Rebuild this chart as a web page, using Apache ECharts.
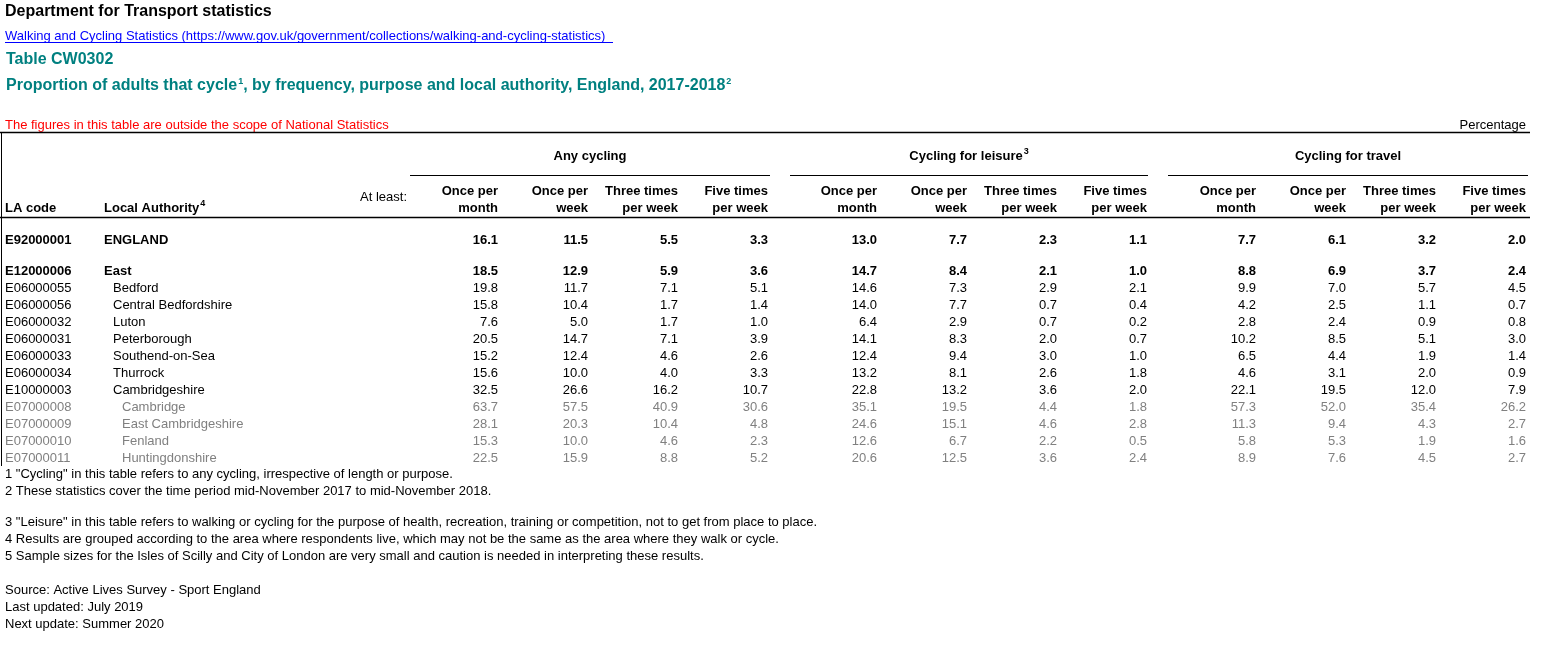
<!DOCTYPE html>
<html lang="en">
<head>
<meta charset="UTF-8">
<title>CW0302</title>
<style>
  html,body{margin:0;padding:0;background:#fff;}
  #main{width:1557px;height:649px;}
</style>
<script src="https://cdn.jsdelivr.net/npm/echarts@6/dist/echarts.min.js"></script>
</head>
<body>
<div id="main"></div>
<script>
// table data
let groups = ['Any cycling', 'Cycling for leisure{sup|3}', 'Cycling for travel'];
let colHeads = [['Once per', 'month'], ['Once per', 'week'], ['Three times', 'per week'], ['Five times', 'per week']];
let codes = ['E92000001', 'E12000006', 'E06000055', 'E06000056', 'E06000032', 'E06000031', 'E06000033', 'E06000034', 'E10000003', 'E07000008', 'E07000009', 'E07000010', 'E07000011'];
let names = ['ENGLAND', 'East', 'Bedford', 'Central Bedfordshire', 'Luton', 'Peterborough', 'Southend-on-Sea', 'Thurrock', 'Cambridgeshire', 'Cambridge', 'East Cambridgeshire', 'Fenland', 'Huntingdonshire'];
let levels = [0, 0, 1, 1, 1, 1, 1, 1, 1, 2, 2, 2, 2];
let values = [
  ['16.1','11.5','5.5','3.3','13.0','7.7','2.3','1.1','7.7','6.1','3.2','2.0'],
  ['18.5','12.9','5.9','3.6','14.7','8.4','2.1','1.0','8.8','6.9','3.7','2.4'],
  ['19.8','11.7','7.1','5.1','14.6','7.3','2.9','2.1','9.9','7.0','5.7','4.5'],
  ['15.8','10.4','1.7','1.4','14.0','7.7','0.7','0.4','4.2','2.5','1.1','0.7'],
  ['7.6','5.0','1.7','1.0','6.4','2.9','0.7','0.2','2.8','2.4','0.9','0.8'],
  ['20.5','14.7','7.1','3.9','14.1','8.3','2.0','0.7','10.2','8.5','5.1','3.0'],
  ['15.2','12.4','4.6','2.6','12.4','9.4','3.0','1.0','6.5','4.4','1.9','1.4'],
  ['15.6','10.0','4.0','3.3','13.2','8.1','2.6','1.8','4.6','3.1','2.0','0.9'],
  ['32.5','26.6','16.2','10.7','22.8','13.2','3.6','2.0','22.1','19.5','12.0','7.9'],
  ['63.7','57.5','40.9','30.6','35.1','19.5','4.4','1.8','57.3','52.0','35.4','26.2'],
  ['28.1','20.3','10.4','4.8','24.6','15.1','4.6','2.8','11.3','9.4','4.3','2.7'],
  ['15.3','10.0','4.6','2.3','12.6','6.7','2.2','0.5','5.8','5.3','1.9','1.6'],
  ['22.5','15.9','8.8','5.2','20.6','12.5','3.6','2.4','8.9','7.6','4.5','2.7']
];
let footnotes = [
  '1 "Cycling" in this table refers to any cycling, irrespective of length or purpose.',
  '2 These statistics cover the time period mid-November 2017 to mid-November 2018.',
  '3 "Leisure" in this table refers to walking or cycling for the purpose of health, recreation, training or competition, not to get from place to place.',
  '4 Results are grouped according to the area where respondents live, which may not be the same as the area where they walk or cycle.',
  '5 Sample sizes for the Isles of Scilly and City of London are very small and caution is needed in interpreting these results.',
  'Source: Active Lives Survey - Sport England',
  'Last updated: July 2019',
  'Next update: Summer 2020'
];
let footY = [474, 491, 522, 539, 556, 590, 607, 624];

let FONT = 'Arial, "Liberation Sans", sans-serif';
let els = [];
function txt(x, y, s, o) {
  o = o || {};
  let size = o.size || 13;
  els.push({
    type: 'text', x: x, y: y, silent: true,
    style: {
      text: s, fill: o.color || '#000', font: (o.bold ? 'bold ' : '') + size + 'px ' + FONT,
      align: o.align || 'left', verticalAlign: 'middle',
      rich: {
        sup: {fontSize: 9, verticalAlign: 'top', padding: [0, 0, 9, 1], fill: o.color || '#000', fontWeight: o.bold ? 'bold' : 'normal', fontFamily: FONT},
        b: {fontSize: size, fill: o.color || '#000', fontWeight: o.bold ? 'bold' : 'normal', fontFamily: FONT}
      }
    }
  });
}
function line(x1, y1, x2, y2, w, c) {
  els.push({type: 'line', silent: true, shape: {x1: x1, y1: y1, x2: x2, y2: y2}, style: {stroke: c || '#000', lineWidth: w || 1}});
}

txt(5, 12, 'Department for Transport statistics', {bold: true, size: 16});
txt(5, 36, 'Walking and Cycling Statistics (https://www.gov.uk/government/collections/walking-and-cycling-statistics)', {color: '#0000ff'});
line(5, 42.5, 613, 42.5, 1, '#0000ff');
txt(6, 60, 'Table CW0302', {bold: true, size: 16, color: '#008080'});
txt(6, 86, '{b|Proportion of adults that cycle}{sup|1}{b|, by frequency, purpose and local authority, England, 2017-2018}{sup|2}', {bold: true, size: 16, color: '#008080'});
txt(5, 125, 'The figures in this table are outside the scope of National Statistics', {color: '#ff0000'});
txt(1526, 125, 'Percentage', {align: 'right'});
line(0, 132.5, 1530, 132.5, 1.5);
line(1.5, 132, 1.5, 466, 1);

let colX = [498, 588, 678, 768, 877, 967, 1057, 1147, 1256, 1346, 1436, 1526];
let groupSpan = [[410, 770], [790, 1148], [1168, 1528]];
groups.forEach(function (g, i) {
  let c = (groupSpan[i][0] + groupSpan[i][1]) / 2;
  txt(c, 156, g, {bold: true, align: 'center'});
  line(groupSpan[i][0], 175.5, groupSpan[i][1], 175.5, 1);
});
colX.forEach(function (x, i) {
  let h = colHeads[i % 4];
  txt(x, 191, h[0], {bold: true, align: 'right'});
  txt(x, 208, h[1], {bold: true, align: 'right'});
});
txt(407, 197, 'At least:', {align: 'right'});
txt(5, 208, 'LA code', {bold: true});
txt(104, 208, '{b|Local Authority}{sup|4}', {bold: true});
line(0, 217.5, 1530, 217.5, 1.5);

codes.forEach(function (code, r) {
  let y = r === 0 ? 240 : 271 + (r - 1) * 17;
  let bold = r < 2;
  let color = levels[r] === 2 ? '#808080' : '#000';
  let nx = levels[r] === 0 ? 104 : (levels[r] === 1 ? 113 : 122);
  txt(5, y, code, {bold: bold, color: color});
  txt(nx, y, names[r], {bold: bold, color: color});
  values[r].forEach(function (v, c) {
    txt(colX[c], y, v, {bold: bold, color: color, align: 'right'});
  });
});

footnotes.forEach(function (f, i) {
  txt(5, footY[i], f);
});

let chart = echarts.init(document.getElementById('main'), null, {renderer: 'canvas'});
chart.setOption({animation: false, backgroundColor: '#fff', graphic: {elements: els}});
</script>
</body>
</html>
